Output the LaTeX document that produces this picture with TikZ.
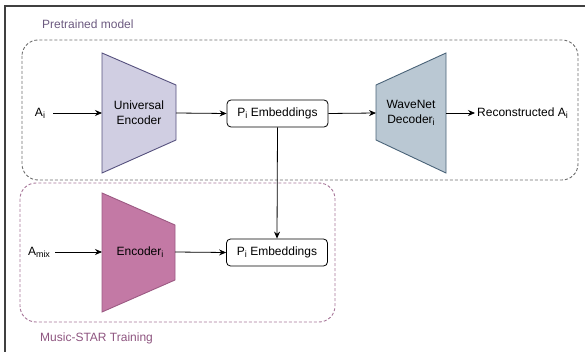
\documentclass[tikz,border=0pt]{standalone}
\usepackage{fontspec}
\setmainfont{Liberation Sans}
\usetikzlibrary{arrows.meta}
\definecolor{uefill}{HTML}{D0CEE2}
\definecolor{uedraw}{HTML}{56517E}
\definecolor{wnfill}{HTML}{BAC8D3}
\definecolor{wndraw}{HTML}{4A6378}
\definecolor{encfill}{HTML}{C379A5}
\definecolor{encdraw}{HTML}{9C5A83}
\definecolor{grpgray}{HTML}{6E6E6E}
\definecolor{grppink}{HTML}{A8789A}
\definecolor{lblpurple}{HTML}{6C5A80}
\definecolor{lblpink}{HTML}{8E5580}
\newcommand\sub[1]{\raisebox{-0.35ex}{\fontsize{9}{9}\selectfont #1}}
\tikzset{
  txt/.style={font=\fontsize{12}{15}\selectfont, inner sep=2pt, align=center},
  embbox/.style={txt, draw=black, line width=0.8pt, rounded corners=4pt, minimum width=101pt, minimum height=27pt},
  arr/.style={line width=0.8pt, -{Stealth[length=7pt,width=6pt]}},
  grpbox/.style={dash pattern=on 3pt off 2pt, line width=0.9pt, rounded corners=16pt},
  trap/.style={line width=0.9pt}
}
\begin{document}
\begin{tikzpicture}[x=1pt,y=-1pt]
\useasboundingbox (0,0) rectangle (585,352);
% outer frame
\draw[line width=1.3pt, black!75] (5,352) -- (5,6) -- (585,6);
% group boxes
\draw[grpbox, grpgray] (22,40) rectangle (578,180);
\draw[grpbox, grppink] (20,183) rectangle (335,322);
\node[txt, text=lblpurple, anchor=west] (lblpre) at (40,24) {Pretrained model};
\node[txt, text=lblpink, anchor=west] (lblms) at (38,338) {Music-STAR Training};
% Universal encoder
\draw[trap, fill=uefill, draw=uedraw] (102,53) -- (176,85) -- (176,140) -- (102,173) -- cycle;
\node[txt] (ue) at (139,113) {Universal\\Encoder};
\coordinate (uew) at (102,113);
\coordinate (uee) at (176,113);
% WaveNet decoder
\draw[trap, fill=wnfill, draw=wndraw] (376,85) -- (446,53) -- (446,173) -- (376,140) -- cycle;
\node[txt] (wn) at (411,113) {WaveNet\\Decoder\sub{i}};
\coordinate (wnw) at (376,113);
\coordinate (wne) at (446,113);
% Encoder i
\draw[trap, fill=encfill, draw=encdraw] (102,193) -- (175,225) -- (175,280) -- (102,312) -- cycle;
\node[txt] (enc) at (140,252) {Encoder\sub{i}};
\coordinate (encw) at (102,252);
\coordinate (ence) at (175,252);
% embeddings
\node[embbox] (p1) at (277.5,113.5) {P\sub{i} Embeddings};
\node[embbox] (p2) at (277,252.5) {P\sub{i} Embeddings};
% texts
\node[txt] (ai) at (40,113) {A\sub{i}};
\node[txt] (amix) at (39,252) {A\sub{mix}};
\node[txt, anchor=west] (rec) at (475,113) {Reconstructed A\sub{i}};
% connectors
\draw[arr, shorten <=6pt] (ai.east) -- (uew);
\draw[arr] (uee) -- (p1.west);
\draw[arr] (p1.east) -- (wnw);
\draw[arr] (wne) -- (rec.west);
\draw[arr, shorten <=3pt] (amix.east) -- (encw);
\draw[arr] (ence) -- (p2.west);
\draw[arr] (p1.south) -- (p2.north);
\end{tikzpicture}
\end{document}
